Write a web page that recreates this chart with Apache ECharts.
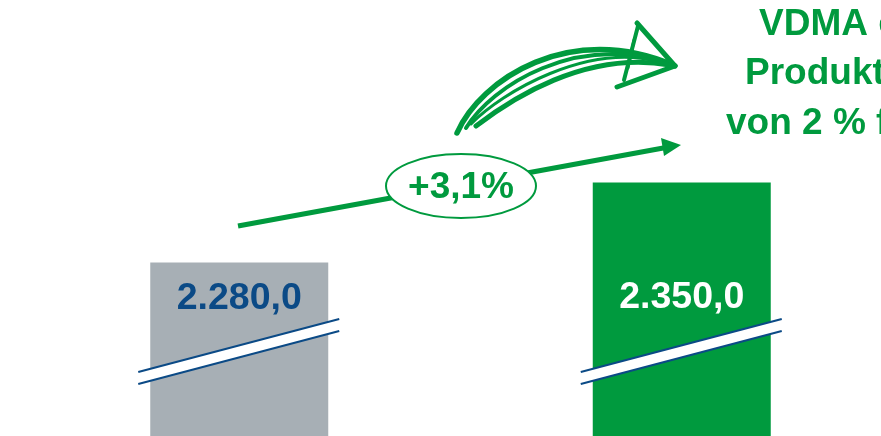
<!DOCTYPE html>
<html>
<head>
<meta charset="utf-8">
<script src="https://cdn.jsdelivr.net/npm/echarts@6/dist/echarts.min.js"></script>
<style>
  html, body { margin: 0; padding: 0; background: #fff; }
  #chart { width: 881px; height: 436px; }
</style>
</head>
<body>
<div id="chart"></div>
<script>
// data
const categories = ["2014", "2015"];
const values = [2280.0, 2350.0];
const barColors = ["#a7afb5", "#009a3e"];
const labelColors = ["#0b4a86", "#ffffff"];
const growthLabel = "+3,1%";
const noteLines = ["VDMA erwartet", "Produktionsplus", "von 2 % für 2015"];

const GREEN = "#009a3e";
const BLUE = "#0b4a86";
const FONT = "Liberation Sans, Arial, sans-serif";

// 2280 -> "2.280,0"
function deNum(v) {
	const parts = v.toFixed(1).split(".");
	const int = parts[0].replace(/\B(?=(\d{3})+(?!\d))/g, ".");
	return int + "," + parts[1];
}

const chart = echarts.init(document.getElementById("chart"));

chart.setOption({
	animation: false,
	grid: { left: 18, width: 885, top: 0, bottom: 0, outerBoundsMode: "none", containLabel: false },
	xAxis: {
		type: "category",
		data: categories,
		show: false,
	},
	yAxis: {
		type: "value",
		min: 2128,
		max: 2510,
		show: false,
	},
	series: [
		{
			type: "bar",
			barWidth: 178,
			data: values.map((v, i) => ({
				value: v,
				itemStyle: { color: barColors[i] },
				label: {
					show: true,
					// both labels sit on the same height in the original
					position: ["50%", i === 0 ? 36 : 115],
					align: "center",
					verticalAlign: "middle",
					color: labelColors[i],
					fontSize: 37.5,
					fontWeight: "bold",
					fontFamily: FONT,
					formatter: () => deNum(v),
				},
			})),
		},
	],
});

// decorations, placed after the axes are known
const graphics = [];

// break marks across the bars
categories.forEach((c) => {
	const cx = chart.convertToPixel({ xAxisIndex: 0 }, c);
	const x0 = cx - 101, x1 = cx + 100;
	const yL = 372, yR = 319, gap = 12;
	graphics.push({
		type: "polygon",
		z: 50,
		shape: { points: [[x0, yL], [x1, yR], [x1, yR + gap], [x0, yL + gap]] },
		style: { fill: "#fff" },
	});
	[0, gap].forEach((d) => {
		graphics.push({
			type: "line",
			z: 51,
			shape: { x1: x0, y1: yL + d, x2: x1, y2: yR + d },
			style: { stroke: BLUE, lineWidth: 2 },
		});
	});
});

// straight growth arrow
graphics.push({
	type: "line",
	z: 40,
	shape: { x1: 238, y1: 226, x2: 666, y2: 147.5 },
	style: { stroke: GREEN, lineWidth: 5 },
});
graphics.push({
	type: "polygon",
	z: 40,
	shape: { points: [[681, 145], [661, 138], [664, 156]] },
	style: { fill: GREEN },
});
graphics.push({
	type: "ellipse",
	z: 45,
	shape: { cx: 461, cy: 186, rx: 75, ry: 32 },
	style: { fill: "#fff", stroke: GREEN, lineWidth: 2 },
});
graphics.push({
	type: "text",
	z: 46,
	x: 461,
	y: 188,
	style: {
		text: growthLabel,
		fill: GREEN,
		font: "bold 37px " + FONT,
		align: "center",
		verticalAlign: "middle",
	},
});

// hand drawn arrow
const strokes = [
	[[457, 133], [480, 80], [570, 20], [675, 66], 5.5],
	[[466, 128], [492, 86], [575, 32], [672, 64], 4],
	[[476, 126], [510, 100], [585, 50], [670, 65], 5],
	[[471, 124], [502, 92], [588, 42], [660, 62], 3],
];
strokes.forEach((s) => {
	graphics.push({
		type: "bezierCurve",
		z: 40,
		shape: {
			x1: s[0][0], y1: s[0][1],
			cpx1: s[1][0], cpy1: s[1][1],
			cpx2: s[2][0], cpy2: s[2][1],
			x2: s[3][0], y2: s[3][1],
		},
		style: { stroke: GREEN, lineWidth: s[4], fill: null, lineCap: "round" },
	});
});
graphics.push({
	type: "polyline",
	z: 40,
	shape: { points: [[637, 23], [675, 66], [617, 87]] },
	style: { stroke: GREEN, lineWidth: 5, lineJoin: "round", lineCap: "round" },
});
graphics.push({
	type: "polyline",
	z: 40,
	shape: { points: [[638, 26], [624, 80]] },
	style: { stroke: GREEN, lineWidth: 4, lineCap: "round" },
});
graphics.push({
	type: "polyline",
	z: 40,
	shape: { points: [[634, 40], [628, 68]] },
	style: { stroke: GREEN, lineWidth: 3, lineCap: "round" },
});

// note in the top right corner (cut off by the frame)
const noteX = [759, 745, 726];
const noteY = [25, 74, 124];
noteLines.forEach((t, i) => {
	graphics.push({
		type: "text",
		z: 60,
		x: noteX[i],
		y: noteY[i],
		style: {
			text: t,
			fill: GREEN,
			font: "bold 37px " + FONT,
			align: "left",
			verticalAlign: "middle",
		},
	});
});

chart.setOption({ graphic: graphics });
</script>
</body>
</html>
